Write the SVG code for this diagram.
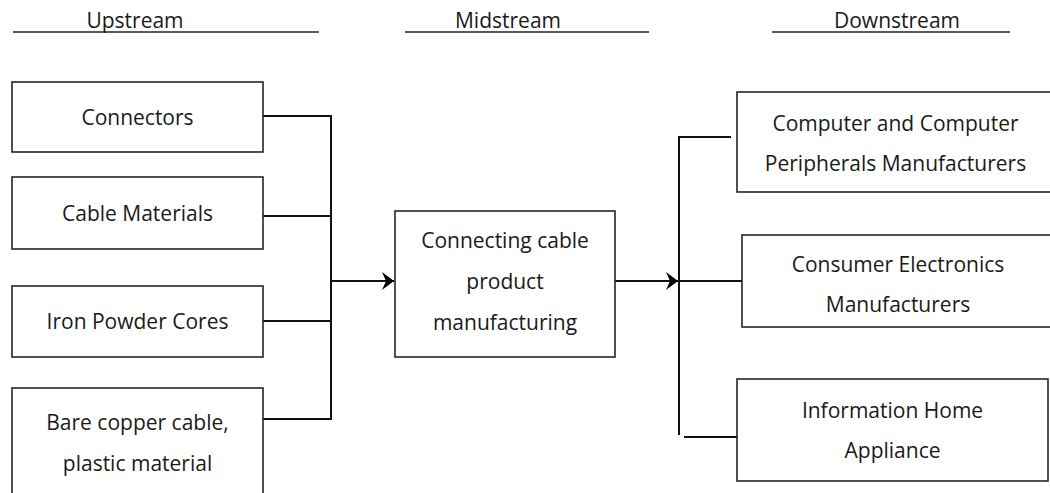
<svg xmlns="http://www.w3.org/2000/svg" width="1050" height="493" viewBox="0 0 1050 493">
<style>
text{font-family:"Open Sans","Liberation Sans",sans-serif;font-size:21px;fill:#1a1a1a;text-anchor:middle}
.box{fill:#fff;stroke:#262626;stroke-width:1.6}
.ln{fill:none;stroke:#111;stroke-width:2}
.ul{stroke:#222;stroke-width:1.6}
</style>
<defs>
<marker id="arr" viewBox="0 0 12 18" refX="12" refY="9" markerWidth="12" markerHeight="18" markerUnits="userSpaceOnUse" orient="auto">
<path d="M0,0 L12,9 L0,18 L4,9 Z" fill="#000"/>
</marker>
</defs>
<g id="headers">
<line class="ul" x1="13" y1="32" x2="319" y2="32"/>
<text x="135" y="28">Upstream</text>
<line class="ul" x1="405" y1="32" x2="649" y2="32"/>
<text x="508" y="28">Midstream</text>
<line class="ul" x1="772" y1="32" x2="1010" y2="32"/>
<text x="897" y="28">Downstream</text>
</g>
<g id="connectors">
<path class="ln" d="M263,116 H331 M263,216 H331 M263,321 H331 M263,419 H331 M331,115 V420"/>
<path class="ln" d="M331,281 H394" marker-end="url(#arr)"/>
<path class="ln" d="M615,281 H678" marker-end="url(#arr)"/>
<path class="ln" d="M679,136 V435 M679,137 H731 M679,281 H742 M684,437 H737"/>
</g>
<g id="n-connectors">
<rect class="box" x="12" y="82" width="251" height="70"/>
<text x="137.5" y="125">Connectors</text>
</g>
<g id="n-cable-materials">
<rect class="box" x="12" y="177" width="251" height="72"/>
<text x="137.5" y="221">Cable Materials</text>
</g>
<g id="n-iron-powder">
<rect class="box" x="12" y="286" width="251" height="71"/>
<text x="137.5" y="329">Iron Powder Cores</text>
</g>
<g id="n-bare-copper">
<rect class="box" x="12" y="388" width="251" height="120"/>
<text x="137.5" y="430">Bare copper cable,</text>
<text x="137.5" y="471">plastic material</text>
</g>
<g id="n-manufacturing">
<rect class="box" x="395" y="211" width="220" height="146"/>
<text x="505" y="248">Connecting cable</text>
<text x="505" y="289">product</text>
<text x="505" y="330">manufacturing</text>
</g>
<g id="n-computer">
<rect class="box" x="737" y="92" width="320" height="100"/>
<text x="895.5" y="131">Computer and Computer</text>
<text x="895.5" y="171">Peripherals Manufacturers</text>
</g>
<g id="n-consumer">
<rect class="box" x="742" y="235" width="315" height="92"/>
<text x="898" y="272">Consumer Electronics</text>
<text x="898" y="312">Manufacturers</text>
</g>
<g id="n-home">
<rect class="box" x="737" y="379" width="311" height="102"/>
<text x="892.5" y="418">Information Home</text>
<text x="892.5" y="458">Appliance</text>
</g>
</svg>
